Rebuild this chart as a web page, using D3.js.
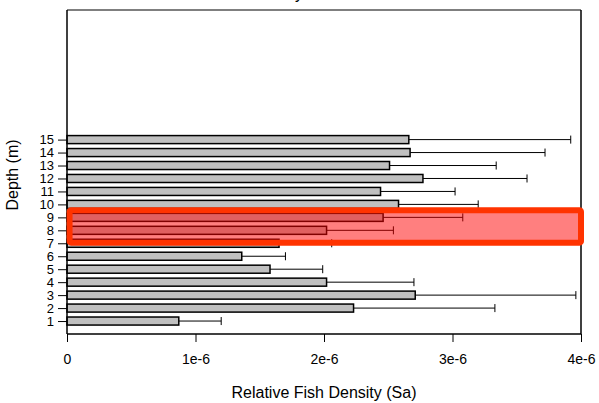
<!DOCTYPE html>
<meta charset="utf-8">
<script src="https://d3js.org/d3.v7.min.js"></script>
<style>
  body { margin: 0; background: #fff; }
  text { font-family: Arial, "Liberation Sans", sans-serif; }
</style>
<body>
<div id="my_dataviz"></div>
<script>
  // depth bins and mean fish density (with upper error)
  var depths = [1, 2, 3, 4, 5, 6, 7, 8, 9, 10, 11, 12, 13, 14, 15];
  var density = [0.87e-6, 2.23e-6, 2.71e-6, 2.02e-6, 1.58e-6, 1.36e-6, 1.65e-6, 2.02e-6, 2.46e-6, 2.58e-6, 2.44e-6, 2.77e-6, 2.51e-6, 2.67e-6, 2.66e-6];
  var upper = [1.20e-6, 3.33e-6, 3.96e-6, 2.70e-6, 1.99e-6, 1.70e-6, 2.06e-6, 2.54e-6, 3.08e-6, 3.20e-6, 3.02e-6, 3.58e-6, 3.34e-6, 3.72e-6, 3.92e-6];
  var xTicks = [0, 1e-6, 2e-6, 3e-6, 4e-6];
  var xTickLabels = ["0", "1e-6", "2e-6", "3e-6", "4e-6"];
  // highlighted depth band
  var hlDepth = [7.05, 9.55];
  var hlDensity = [0.02e-6, 4.0e-6];

  var margin = { top: 10, right: 18, bottom: 69, left: 67 },
    width = 599 - margin.left - margin.right,
    height = 403 - margin.top - margin.bottom;

  var svg = d3.select("#my_dataviz")
    .append("svg")
    .attr("width", 599)
    .attr("height", 403)
    .append("g")
    .attr("transform", "translate(" + margin.left + "," + margin.top + ")");

  var x = d3.scaleLinear().domain([0, 4e-6]).range([0, width]);
  var y = d3.scaleLinear().domain([0, 25]).range([height, 0]);
  var barH = (y(0) - y(1)) * 0.62;

  // title (mostly cut off at the top)
  svg.append("text")
    .attr("x", 236).attr("y", -11)
    .attr("text-anchor", "end")
    .style("font-size", "16px")
    .text("Day");

  // error bars
  var data = depths.map(function (d, i) { return { depth: d, value: density[i], up: upper[i] }; });
  var err = svg.append("g");
  err.selectAll("line.e")
    .data(data).enter().append("line")
    .attr("x1", function (d) { return x(d.value); })
    .attr("x2", function (d) { return x(d.up); })
    .attr("y1", function (d) { return y(d.depth); })
    .attr("y2", function (d) { return y(d.depth); })
    .attr("stroke", "#000").attr("stroke-width", 1);
  err.selectAll("line.c")
    .data(data).enter().append("line")
    .attr("x1", function (d) { return x(d.up); })
    .attr("x2", function (d) { return x(d.up); })
    .attr("y1", function (d) { return y(d.depth) - barH / 2; })
    .attr("y2", function (d) { return y(d.depth) + barH / 2; })
    .attr("stroke", "#000").attr("stroke-width", 1);

  // bars
  svg.append("g").selectAll("rect")
    .data(data).enter().append("rect")
    .attr("x", x(0))
    .attr("y", function (d) { return y(d.depth) - barH / 2; })
    .attr("width", function (d) { return x(d.value) - x(0); })
    .attr("height", barH)
    .attr("fill", "#c0c0c0")
    .attr("stroke", "#000")
    .attr("stroke-width", 1.5);

  // frame
  svg.append("line").attr("x1", 0).attr("x2", width).attr("y1", 0).attr("y2", 0)
    .attr("stroke", "#555").attr("stroke-width", 1.5);
  svg.append("line").attr("x1", width).attr("x2", width).attr("y1", 0).attr("y2", height)
    .attr("stroke", "#000").attr("stroke-width", 1.5);

  // axes
  var xAxis = svg.append("g")
    .attr("transform", "translate(0," + height + ")")
    .call(d3.axisBottom(x).tickValues(xTicks).tickSize(8).tickPadding(12)
      .tickFormat(function (d, i) { return xTickLabels[i]; }));
  xAxis.select(".domain").attr("stroke-width", 1.5).attr("d", "M0,0H" + width);
  xAxis.selectAll("text").style("font-size", "14px").attr("fill", "#000");

  var yAxis = svg.append("g")
    .call(d3.axisLeft(y).tickValues(depths).tickSize(9).tickPadding(4).tickFormat(d3.format("d")));
  yAxis.select(".domain").attr("stroke-width", 1.5).attr("d", "M0," + height + "V0");
  yAxis.selectAll("text").style("font-size", "13px").attr("fill", "#000");

  // highlight band
  svg.append("rect")
    .attr("x", x(hlDensity[0]))
    .attr("y", y(hlDepth[1]))
    .attr("width", x(hlDensity[1]) - x(hlDensity[0]))
    .attr("height", y(hlDepth[0]) - y(hlDepth[1]))
    .attr("rx", 1.5)
    .attr("fill", "rgba(255,0,0,0.5)")
    .attr("stroke", "#ff3300")
    .attr("stroke-width", 6);

  // axis titles
  svg.append("text")
    .attr("x", width / 2).attr("y", height + 64)
    .attr("text-anchor", "middle")
    .style("font-size", "16px")
    .text("Relative Fish Density (Sa)");

  svg.append("text")
    .attr("transform", "translate(" + (-49) + "," + (height / 2 + 3) + ") rotate(-90)")
    .attr("text-anchor", "middle")
    .style("font-size", "16px")
    .text("Depth (m)");
</script>
</body>
